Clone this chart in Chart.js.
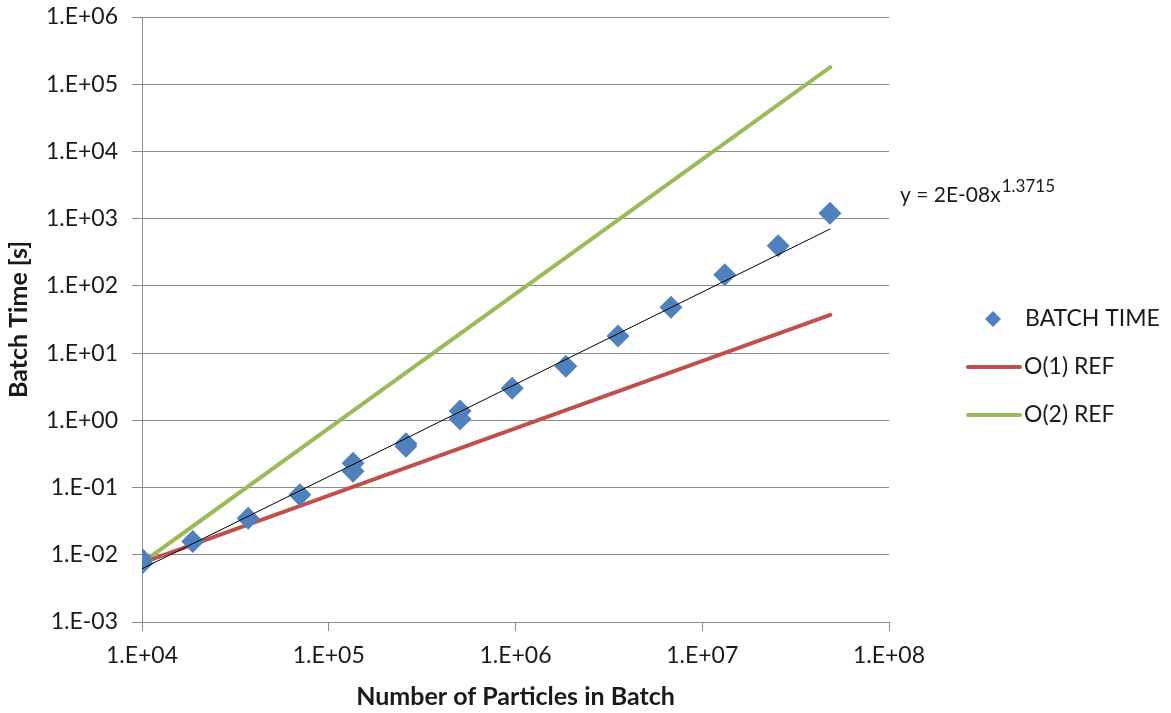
<!DOCTYPE html>
<html><head><meta charset="utf-8">
<script src="https://cdn.jsdelivr.net/npm/chart.js@4/dist/chart.umd.min.js"></script>
<style>html,body{margin:0;padding:0;background:#fff}#wrap{width:1171px;height:713px;position:relative}</style>
</head><body><div id="wrap"><canvas id="c"></canvas></div>
<script>
// ---- data ----
const batchParticles = [10000, 10000, 18700, 37000, 70000, 135000, 135000, 259000, 259000, 505000, 505000, 960000, 1860000, 3540000, 6800000, 13200000, 25500000, 48300000];
const batchTimes     = [0.0075, 0.0086, 0.0158, 0.035, 0.078, 0.23, 0.175, 0.45, 0.41, 1.38, 1.05, 3.0, 6.4, 18, 48, 146, 395, 1200];
const refParticles   = [10000, 48500000];
const o1Ref          = [0.0076, 37];
const o2Ref          = [0.0076, 180000];
const trendParticles = [10000, 48500000];
const trendTimes     = [0.0062, 705];
const xTickValues    = [1e4, 1e5, 1e6, 1e7, 1e8];
const yTickValues    = [1e-3, 1e-2, 1e-1, 1e0, 1e1, 1e2, 1e3, 1e4, 1e5, 1e6];
const seriesNames    = ['BATCH TIME', 'O(1) REF', 'O(2) REF'];
const trendText      = 'y = 2E-08x';
const trendExponent  = '1.3715';
const xTitle = 'Number of Particles in Batch';
const yTitle = 'Batch Time [s]';

const BLUE = '#4F81BD', RED = '#C0504D', GREEN = '#9BBB59', GRID = '#8c8c8c';
const FONT = 'Lato, "Open Sans", sans-serif';

function fmt(v) {
  const e = Math.round(Math.log10(v));
  const a = Math.abs(e);
  return '1.E' + (e < 0 ? '-' : '+') + (a < 10 ? '0' : '') + a;
}
const pts = (xs, ys) => xs.map((x, i) => ({x: x, y: ys[i]}));

const legendPlugin = {
  id: 'customLegend',
  afterDraw(chart) {
    const ctx = chart.ctx;
    ctx.save();
    ctx.font = '23px ' + FONT;
    ctx.textBaseline = 'middle';
    ctx.textAlign = 'left';
    ctx.fillStyle = BLUE;
    ctx.beginPath();
    const dx = 993, dy = 319, r = 8;
    ctx.moveTo(dx - r, dy); ctx.lineTo(dx, dy - r); ctx.lineTo(dx + r, dy); ctx.lineTo(dx, dy + r); ctx.closePath();
    ctx.fill();
    ctx.fillStyle = '#1a1a1a';
    ctx.fillText(seriesNames[0], 1025, 319);
    const lines = [[RED, 367, seriesNames[1]], [GREEN, 415, seriesNames[2]]];
    lines.forEach(([c, y, t]) => {
      ctx.strokeStyle = c; ctx.lineWidth = 4; ctx.lineCap = 'round';
      ctx.beginPath(); ctx.moveTo(968, y); ctx.lineTo(1020, y); ctx.stroke();
      ctx.fillStyle = '#1a1a1a';
      ctx.fillText(t, 1024, y);
    });
    ctx.textBaseline = 'alphabetic';
    ctx.font = '21px ' + FONT;
    ctx.fillText(trendText, 900, 202);
    const w = ctx.measureText(trendText).width;
    ctx.font = '17px ' + FONT;
    ctx.fillText(trendExponent, 900 + w + 1, 192);
    ctx.restore();
  }
};

new Chart(document.getElementById('c'), {
  type: 'scatter',
  data: {
    datasets: [
      { label: 'trend', data: pts(trendParticles, trendTimes), showLine: true, borderColor: '#000', borderWidth: 1, pointRadius: 0 },
      { label: seriesNames[0], data: pts(batchParticles, batchTimes), pointStyle: 'rectRot', pointRadius: 11.5, pointHoverRadius: 11.5, backgroundColor: BLUE, borderColor: BLUE, borderWidth: 0, showLine: false },
      { label: seriesNames[1], data: pts(refParticles, o1Ref), showLine: true, borderColor: RED, borderWidth: 4, pointRadius: 0, borderCapStyle: 'round' },
      { label: seriesNames[2], data: pts(refParticles, o2Ref), showLine: true, borderColor: GREEN, borderWidth: 4, pointRadius: 0, borderCapStyle: 'round' }
    ]
  },
  options: {
    responsive: true,
    maintainAspectRatio: false,
    animation: false,
    layout: { padding: { top: 17, right: 282, bottom: 0, left: 0 } },
    plugins: { legend: { display: false }, tooltip: { enabled: false } },
    scales: {
      x: {
        type: 'logarithmic', min: 1e4, max: 1e8,
        afterBuildTicks: s => { s.ticks = xTickValues.map(v => ({value: v})); },
        afterFit: s => { s.height = 91; s.paddingLeft = 0; s.paddingRight = 0; },
        ticks: { callback: v => fmt(v), color: '#1a1a1a', font: { family: FONT, size: 23 }, padding: 11, maxRotation: 0, autoSkip: false },
        grid: { drawOnChartArea: false, drawTicks: true, tickLength: 9, color: GRID, lineWidth: 1 },
        border: { color: GRID, width: 1 },
        title: { display: true, text: xTitle, color: '#1a1a1a', font: { family: FONT, size: 25, weight: 'bold' }, padding: { top: 0, bottom: 1 } }
      },
      y: {
        type: 'logarithmic', min: 1e-3, max: 1e6,
        afterBuildTicks: s => { s.ticks = yTickValues.map(v => ({value: v})); },
        afterFit: s => { s.width = 142; s.paddingTop = 0; s.paddingBottom = 0; },
        ticks: { callback: v => fmt(v), color: '#1a1a1a', font: { family: FONT, size: 23 }, padding: 14, autoSkip: false },
        grid: { drawOnChartArea: true, drawTicks: true, tickLength: 10, color: GRID, lineWidth: 1 },
        border: { color: GRID, width: 1 },
        title: { display: true, text: yTitle, color: '#1a1a1a', font: { family: FONT, size: 25, weight: 'bold' }, padding: { top: 4, bottom: 0 } }
      }
    }
  },
  plugins: [legendPlugin]
});
</script></body></html>
